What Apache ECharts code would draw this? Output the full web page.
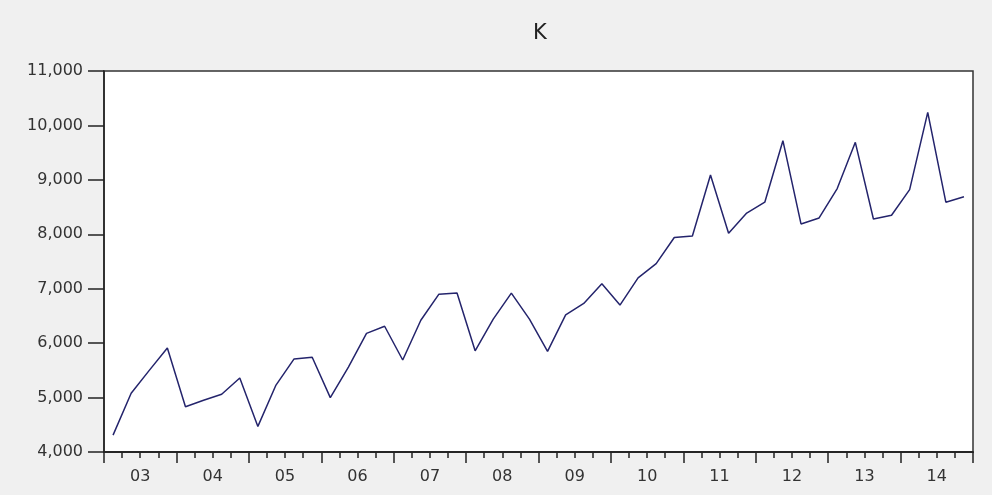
<!DOCTYPE html>
<html>
<head>
<meta charset="utf-8">
<script src="https://cdn.jsdelivr.net/npm/echarts@6/dist/echarts.min.js"></script>
<style>
html,body{margin:0;padding:0;background:#f0f0f0;}
#chart{width:992px;height:495px;}
</style>
</head>
<body>
<div id="chart"></div>
<script>
var years = ['03','04','05','06','07','08','09','10','11','12','13','14'];
var quarters = [];
for (var y = 2003; y <= 2014; y++) { for (var q = 1; q <= 4; q++) { quarters.push(y + 'Q' + q); } }
var values = [
  4310, 5080, 5500, 5910,
  4830, 4950, 5060, 5360,
  4470, 5230, 5710, 5740,
  5000, 5560, 6180, 6310,
  5690, 6420, 6900, 6920,
  5860, 6440, 6920, 6440,
  5850, 6520, 6730, 7090,
  6700, 7200, 7460, 7940,
  7970, 9090, 8020, 8390,
  8590, 9720, 8190, 8300,
  8840, 9690, 8280, 8350,
  8820, 10240, 8590, 8690
];
var yTicks = { min: 4000, max: 11000, step: 1000 };

var chart = echarts.init(document.getElementById('chart'), null, { renderer: 'canvas' });
chart.setOption({
  backgroundColor: '#f0f0f0',
  animation: false,
  title: {
    text: 'K',
    left: 528,
    top: 18,
    textStyle: { fontFamily: 'DejaVu Sans', fontSize: 21, fontWeight: 'normal', color: '#222' }
  },
  grid: {
    left: 104, right: 19, top: 71, bottom: 43,
    show: true, backgroundColor: '#ffffff', borderColor: '#333', borderWidth: 1.5
  },
  xAxis: [
    {
      type: 'category', data: quarters, boundaryGap: true, position: 'bottom',
      axisLine: { show: true, lineStyle: { color: '#222', width: 1.5 } },
      axisTick: { show: true, interval: 0, length: 6, lineStyle: { color: '#222', width: 1.5 } },
      axisLabel: { show: false },
      splitLine: { show: false }
    },
    {
      type: 'category', data: years, boundaryGap: true, position: 'bottom',
      axisLine: { show: true, lineStyle: { color: '#222', width: 1.5 } },
      axisTick: { show: true, interval: 0, length: 11, lineStyle: { color: '#222', width: 1.5 } },
      axisLabel: { show: true, interval: 0, margin: 17, fontFamily: 'DejaVu Sans', fontSize: 16, color: '#333' },
      splitLine: { show: false }
    }
  ],
  yAxis: {
    type: 'value', min: yTicks.min, max: yTicks.max, interval: yTicks.step,
    axisLine: { show: true, lineStyle: { color: '#222', width: 1.5 } },
    axisTick: { show: true, length: 16, lineStyle: { color: '#222', width: 1.5 } },
    axisLabel: {
      margin: 21, fontFamily: 'DejaVu Sans', fontSize: 16, color: '#333',
      formatter: function (v) { return v.toLocaleString('en-US'); }
    },
    splitLine: { show: false }
  },
  series: [{
    type: 'line', xAxisIndex: 0, data: values, symbol: 'none',
    lineStyle: { color: '#24246c', width: 1.5 }
  }]
});
</script>
</body>
</html>
